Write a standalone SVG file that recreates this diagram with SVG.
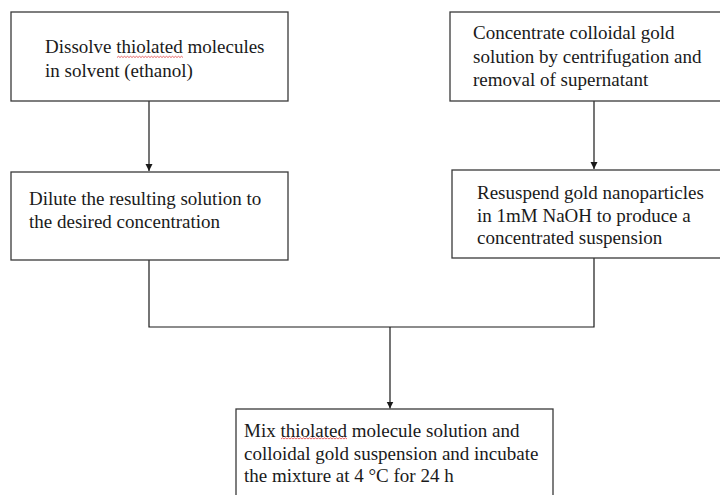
<svg xmlns="http://www.w3.org/2000/svg" width="720" height="495" viewBox="0 0 720 495">
<style>
.box{fill:#fff;stroke:#3a3a3a;stroke-width:1.3}
.t{font-family:"Liberation Serif","Times New Roman",serif;font-size:19px;fill:#1a1a1a}
.c{fill:none;stroke:#1a1a1a;stroke-width:1.2}
.sq{fill:none;stroke:#e04040;stroke-width:0.8}
</style>
<defs>
<marker id="ah" markerWidth="8" markerHeight="8" refX="7" refY="4" orient="auto" markerUnits="userSpaceOnUse">
<path d="M0,0.5 L7,4 L0,7.5 Z" fill="#1a1a1a"/>
</marker>
</defs>
<rect width="720" height="495" fill="#fff"/>
<g id="connectors">
<path class="c" d="M149,101 V171" marker-end="url(#ah)"/>
<path class="c" d="M594,101 V169" marker-end="url(#ah)"/>
<path class="c" d="M149,260 V327 H594 V258"/>
<path class="c" d="M390,327 V408.5" marker-end="url(#ah)"/>
</g>
<g id="n1">
<rect class="box" x="11" y="12" width="277" height="89"/>
<text class="t" x="45" y="53">Dissolve thiolated molecules</text>
<text class="t" x="45" y="77">in solvent (ethanol)</text>
<path class="sq" d="M117,57.5 l1.5,-1.2 l1.5,1.2 l1.5,-1.2 l1.5,1.2 l1.5,-1.2 l1.5,1.2 l1.5,-1.2 l1.5,1.2 l1.5,-1.2 l1.5,1.2 l1.5,-1.2 l1.5,1.2 l1.5,-1.2 l1.5,1.2 l1.5,-1.2 l1.5,1.2 l1.5,-1.2 l1.5,1.2 l1.5,-1.2 l1.5,1.2 l1.5,-1.2 l1.5,1.2 l1.5,-1.2 l1.5,1.2 l1.5,-1.2 l1.5,1.2 l1.5,-1.2 l1.5,1.2 l1.5,-1.2 l1.5,1.2 l1.5,-1.2 l1.5,1.2 l1.5,-1.2 l1.5,1.2 l1.5,-1.2 l1.5,1.2 l1.5,-1.2 l1.5,1.2 l1.5,-1.2 l1.5,1.2 l1.5,-1.2 l1.5,1.2 l1.5,-1.2 l1.5,1.2"/>
</g>
<g id="n2">
<rect class="box" x="11" y="172" width="277" height="88"/>
<text class="t" x="29" y="205">Dilute the resulting solution to</text>
<text class="t" x="29" y="228">the desired concentration</text>
</g>
<g id="n3">
<rect class="box" x="450" y="12" width="280" height="89"/>
<text class="t" x="473" y="39">Concentrate colloidal gold</text>
<text class="t" x="473" y="63">solution by centrifugation and</text>
<text class="t" x="473" y="86">removal of supernatant</text>
</g>
<g id="n4">
<rect class="box" x="452" y="170" width="280" height="88"/>
<text class="t" x="477" y="199">Resuspend gold nanoparticles</text>
<text class="t" x="477" y="222">in 1mM NaOH to produce a</text>
<text class="t" x="477" y="244">concentrated suspension</text>
</g>
<g id="n5">
<rect class="box" x="236" y="409" width="317" height="100"/>
<text class="t" x="244" y="437">Mix thiolated molecule solution and</text>
<text class="t" x="244" y="460">colloidal gold suspension and incubate</text>
<text class="t" x="244" y="482">the mixture at 4 °C for 24 h</text>
<path class="sq" d="M281,439 l1.5,-1.2 l1.5,1.2 l1.5,-1.2 l1.5,1.2 l1.5,-1.2 l1.5,1.2 l1.5,-1.2 l1.5,1.2 l1.5,-1.2 l1.5,1.2 l1.5,-1.2 l1.5,1.2 l1.5,-1.2 l1.5,1.2 l1.5,-1.2 l1.5,1.2 l1.5,-1.2 l1.5,1.2 l1.5,-1.2 l1.5,1.2 l1.5,-1.2 l1.5,1.2 l1.5,-1.2 l1.5,1.2 l1.5,-1.2 l1.5,1.2 l1.5,-1.2 l1.5,1.2 l1.5,-1.2 l1.5,1.2 l1.5,-1.2 l1.5,1.2 l1.5,-1.2 l1.5,1.2 l1.5,-1.2 l1.5,1.2 l1.5,-1.2 l1.5,1.2 l1.5,-1.2 l1.5,1.2 l1.5,-1.2 l1.5,1.2 l1.5,-1.2 l1.5,1.2"/>
</g>
</svg>
